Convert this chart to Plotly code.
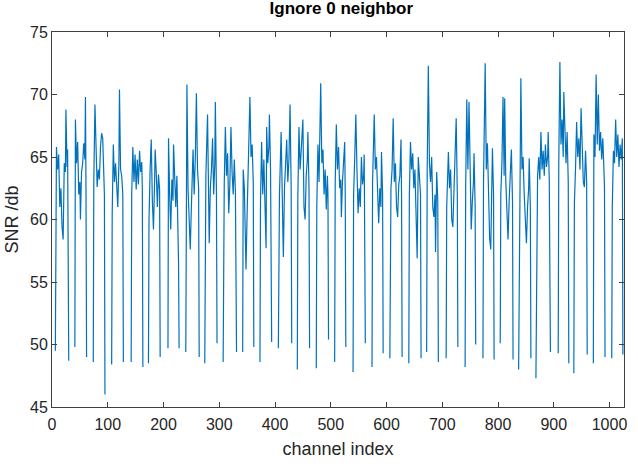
import plotly.graph_objects as go

# Channel indices and SNR values (None = ignored channels, gap in line)
channel = [
    6, 8, 10, 12, 14, 16, 18, 20, 22, 24, 25, 27, 28, 29, 30, 31,
    41, 42, 44, 46, 48, 50, 51, 53, 55, 57, 59, 60, 61, 62, 63,
    74, 75, 77, 79, 81, 83, 85, 87, 89, 91, 93, 94, 95, 96,
    107, 108, 110, 112, 114, 116, 118, 120, 121, 123, 125, 127, 128, 129,
    142, 143, 145, 147, 149, 151, 153, 155, 157, 159, 161, 162, 163, 164,
    173, 174, 176, 178, 180, 182, 184, 185, 187, 189, 191, 193, 194, 195,
    208, 209, 211, 213, 215, 217, 218, 220, 222, 224, 226, 227, 228, 229,
    240, 242, 244, 246, 248, 250, 252, 253, 255, 257, 259, 261, 263, 264, 265,
    274, 276, 279, 281, 282, 284, 286, 288, 290, 292, 293, 295, 296, 297,
    307, 309, 311, 313, 315, 317, 319, 321, 323, 325, 327, 329, 331, 332,
    342, 343, 345, 347, 348, 350, 352, 353, 355, 357, 359, 361, 362, 363,
    373, 374, 376, 378, 380, 382, 384, 385, 387, 389, 390, 392, 394, 395,
    406, 408, 411, 413, 415, 417, 419, 421, 423, 425, 427, 429, 430, 431,
    440, 441, 443, 445, 447, 450, 452, 454, 456, 458, 459, 461, 462, 463,
    474, 475, 477, 479, 482, 484, 486, 488, 490, 492, 494, 495, 496, 497,
    507, 508, 510, 512, 514, 516, 518, 519, 521, 523, 525, 526, 527, 528,
    540, 541, 543, 545, 547, 549, 551, 553, 555, 557, 559, 560, 562, 563,
    574, 575, 578, 580, 582, 584, 586, 588, 590, 591, 593, 594, 595,
    606, 608, 610, 612, 614, 616, 618, 620, 622, 624, 626, 627, 628, 629,
    640, 641, 643, 645, 647, 649, 651, 653, 655, 657, 659, 661, 662, 663,
    672, 673, 675, 677, 679, 681, 683, 685, 687, 688, 690, 692, 693, 694,
    707, 708, 711, 713, 715, 717, 719, 721, 723, 725, 727, 728, 729,
    741, 742, 744, 746, 748, 750, 752, 754, 756, 757, 759, 760, 761,
    773, 774, 777, 779, 781, 783, 785, 787, 789, 790, 792, 793, 794,
    804, 805, 807, 809, 811, 812, 814, 816, 818, 820, 822, 824, 826, 827, 828,
    837, 838, 839, 841, 843, 845, 847, 849, 851, 853, 855, 856, 858, 859, 860,
    868, 869, 871, 873, 875, 877, 879, 881, 883, 885, 887, 889, 890, 892, 893, 894, 895,
    908, 909, 911, 913, 915, 917, 918, 920, 922, 924, 926, 927, 928,
    936, 937, 939, 941, 943, 945, 947, 949, 951, 953, 955, 957, 959, 960, 961,
    971, 972, 974, 976, 978, 980, 982, 984, 986, 988, 990, 991, 992, 993,
    1004, 1005, 1007, 1009, 1011, 1013, 1015, 1017, 1019, 1021, 1023, 1024,
]

snr = [
    49.5, 65.8, 64.0, 65.2, 61.0, 62.5, 59.4, 58.4, 64.5, 63.8, 68.8, 64.2, 65.6, 57.6, 48.7, None,
    49.8, 68.0, 64.5, 66.2, 62.0, 63.0, 60.0, 63.8, 64.5, 66.1, 64.8, 69.8, 62.0, 49.0, None,
    48.6, 63.0, 69.2, 64.5, 62.6, 64.0, 63.2, 65.8, 66.9, 66.5, 64.0, 62.0, 46.0, None,
    48.4, 60.5, 66.0, 63.0, 64.5, 62.0, 61.0, 64.5, 70.4, 64.0, 63.5, 62.0, 48.6, None,
    48.6, 62.0, 65.8, 63.0, 65.2, 62.4, 64.8, 62.8, 65.5, 63.8, 64.6, 62.5, 48.2, None,
    48.5, 60.0, 64.0, 66.4, 61.5, 59.2, 63.0, 65.6, 63.8, 61.0, 63.6, 62.4, 49.0, None,
    49.7, 66.5, 62.0, 59.2, 63.2, 61.5, 66.0, 62.8, 61.0, 63.5, 58.5, 56.5, 49.7, None,
    49.4, 70.8, 62.5, 60.0, 57.6, 61.0, 63.5, 65.6, 62.0, 64.8, 70.1, 64.0, 62.5, 49.0, None,
    48.5, 63.5, 68.4, 61.0, 58.1, 62.5, 64.0, 66.5, 62.0, 64.5, 69.4, 62.0, 50.1, None,
    48.6, 63.0, 67.4, 63.5, 65.3, 60.5, 62.8, 67.4, 63.8, 62.0, 64.8, 62.2, 49.4, None,
    49.4, 64.0, 62.5, 58.0, 56.0, 60.5, 64.5, 68.5, 69.8, 65.0, 66.0, 63.0, 49.8, None,
    48.6, 61.5, 66.2, 62.0, 64.8, 60.5, 57.7, 67.4, 64.5, 65.8, 68.4, 64.0, 50.2, None,
    49.7, 62.0, 67.0, 61.0, 57.0, 62.5, 64.5, 66.4, 63.0, 64.8, 69.2, 62.5, 50.1, None,
    48.0, 62.0, 67.4, 64.0, 65.5, 68.0, 61.0, 60.0, 63.5, 64.8, 67.0, 62.5, 49.7, None,
    48.1, 61.0, 66.0, 63.0, 70.9, 64.5, 65.6, 62.0, 64.0, 60.8, 63.5, 62.0, 50.4, None,
    48.6, 63.0, 67.6, 64.0, 65.8, 62.5, 63.2, 60.2, 63.0, 64.5, 66.2, 62.0, 49.8, None,
    47.8, 62.0, 65.0, 68.4, 64.0, 60.5, 62.5, 61.0, 65.0, 62.8, 63.5, 65.2, 50.1, None,
    48.2, 63.0, 68.4, 64.0, 65.0, 61.5, 59.7, 62.5, 61.0, 65.4, 62.0, 49.3, None,
    48.9, 62.5, 64.0, 68.1, 63.0, 64.5, 61.0, 60.2, 62.8, 63.5, 66.4, 62.0, 49.0, None,
    48.5, 62.0, 66.2, 64.0, 65.3, 62.5, 64.0, 60.0, 56.9, 65.0, 63.0, 62.0, 48.9, None,
    49.4, 64.0, 72.3, 64.5, 63.0, 65.0, 61.0, 60.2, 62.0, 57.4, 63.8, 61.5, 48.6, None,
    48.9, 61.0, 65.4, 62.5, 64.0, 60.0, 59.4, 62.5, 64.5, 68.1, 62.0, 49.8, None,
    48.2, 62.5, 69.6, 64.0, 69.4, 62.0, 59.2, 61.5, 63.0, 65.3, 61.0, 50.0, None,
    48.9, 63.0, 72.5, 64.0, 66.1, 62.0, 58.5, 57.6, 62.0, 65.7, 62.0, 48.8, None,
    50.1, 62.0, 64.5, 69.8, 63.5, 69.7, 63.0, 60.0, 58.4, 61.5, 63.8, 65.6, 61.5, 48.8, None,
    48.0, 54.9, 65.0, 71.3, 64.0, 65.0, 62.0, 60.0, 58.1, 61.0, 62.5, 64.9, 61.0, 48.9, None,
    47.3, 53.6, 63.5, 65.0, 63.2, 67.0, 64.0, 65.5, 63.5, 66.0, 64.2, 65.0, 67.0, 63.0, 58.4, 49.4, None,
    49.3, 64.5, 72.6, 66.0, 68.0, 65.0, 70.2, 66.5, 64.5, 67.0, 63.0, 48.5, None,
    47.7, 61.3, 64.0, 67.8, 65.0, 66.5, 64.0, 68.9, 66.0, 63.0, 62.6, 65.5, 63.0, 49.2, None,
    48.5, 66.8, 65.0, 71.6, 66.0, 70.0, 65.5, 67.0, 64.8, 66.5, 64.0, 62.5, 49.0, None,
    48.9, 61.0, 65.5, 64.5, 68.0, 65.0, 66.8, 64.2, 66.0, 64.8, 66.5, 49.2,
]

x_ticks = list(range(0, 1001, 100))
y_ticks = [45, 50, 55, 60, 65, 70, 75]

FONT = "Liberation Sans, Arial, sans-serif"

fig = go.Figure()
fig.add_trace(go.Scatter(
    x=channel, y=snr, mode="lines",
    line=dict(color="#0072BD", width=1.2),
    connectgaps=False, showlegend=False,
))

axis_common = dict(
    showline=True, linecolor="#404040", linewidth=1, mirror="ticks",
    ticks="inside", ticklen=5, tickcolor="#404040", tickwidth=1,
    showgrid=False, zeroline=False,
    tickfont=dict(family=FONT, size=16, color="#262626"),
)

fig.update_layout(
    width=638, height=470,
    margin=dict(l=50, r=11, t=32, b=63),
    paper_bgcolor="white", plot_bgcolor="white",
    title=dict(text="<b>Ignore 0 neighbor</b>", x=0.535, xanchor="center",
               y=0.995, yanchor="top",
               font=dict(family=FONT, size=17, color="black")),
    xaxis=dict(range=[0, 1026], tickvals=x_ticks, ticklabelstandoff=3,
               title=dict(text="channel index", standoff=10,
                          font=dict(family=FONT, size=18, color="#262626")),
               **axis_common),
    yaxis=dict(range=[45, 75], tickvals=y_ticks,
               title=dict(text="SNR /db", standoff=6,
                          font=dict(family=FONT, size=18, color="#262626")),
               **axis_common),
)

fig.write_html("out.html")
